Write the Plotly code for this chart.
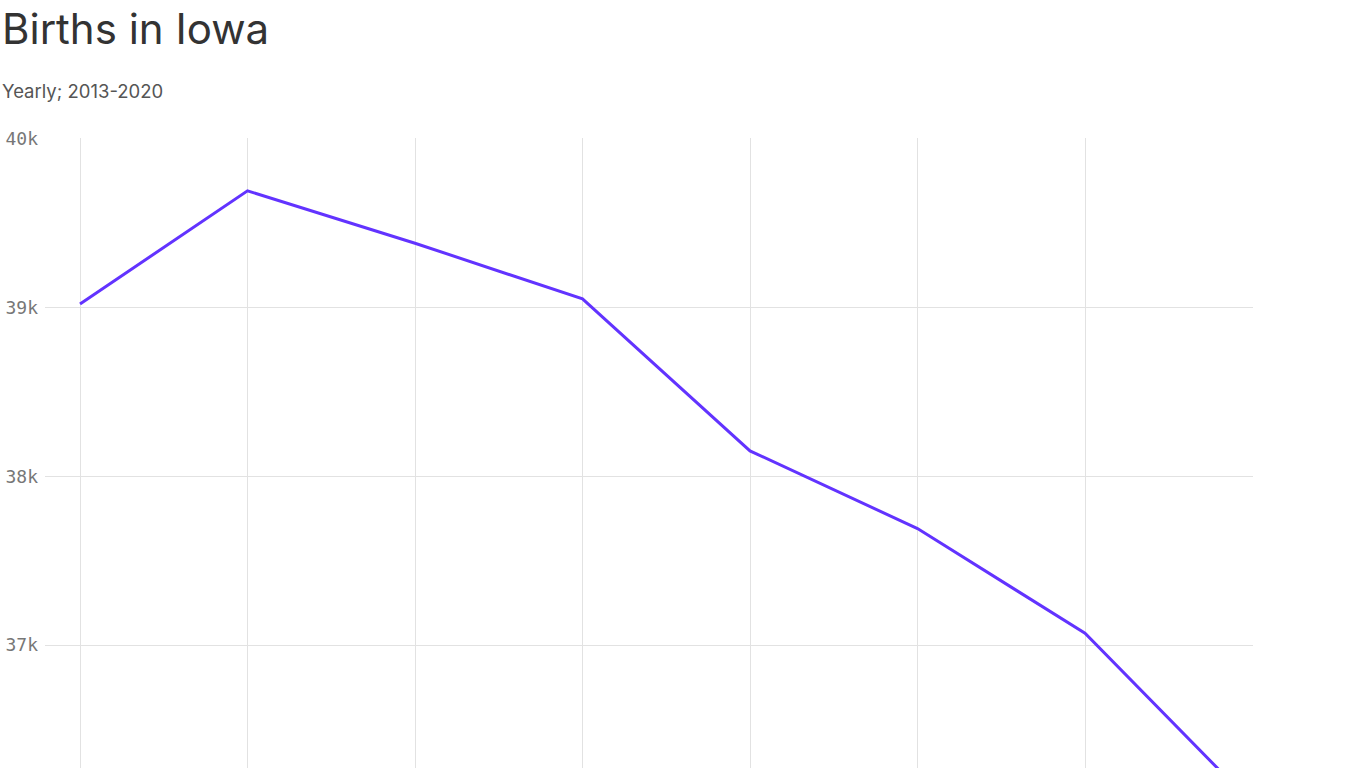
import plotly.graph_objects as go

# Births in Iowa, yearly
years = [2013, 2014, 2015, 2016, 2017, 2018, 2019, 2020]
births = [39020, 39690, 39380, 39050, 38150, 37690, 37070, 36060]

y_ticks = [37000, 38000, 39000, 40000]
y_tick_labels = ["37k", "38k", "39k", "40k"]

fig = go.Figure()

fig.add_trace(go.Scatter(
    x=years,
    y=births,
    mode="lines",
    line=dict(color="#6233ff", width=3),
    hoverinfo="x+y",
))

fig.update_layout(
    width=1366,
    height=768,
    margin=dict(l=45, r=113, t=138, b=0),
    plot_bgcolor="white",
    paper_bgcolor="white",
    showlegend=False,
    font=dict(family="Inter, Roboto, sans-serif", color="#333"),
    annotations=[
        dict(text="Births in Iowa", xref="paper", yref="paper",
             x=-45 / 1208, y=1 + 82 / 630, xanchor="left", yanchor="bottom",
             showarrow=False, font=dict(size=42, color="#333")),
        dict(text="Yearly; 2013-2020", xref="paper", yref="paper",
             x=-45 / 1208, y=1 + 34 / 630, xanchor="left", yanchor="bottom",
             showarrow=False, font=dict(size=18.5, color="#555")),
    ],
)

fig.update_xaxes(
    range=[2012.791, 2020.003],
    tick0=2013,
    dtick=1,
    showgrid=True,
    gridcolor="#e2e2e2",
    gridwidth=1,
    zeroline=False,
    showline=False,
    showticklabels=False,
)

fig.update_yaxes(
    range=[36272, 40003],
    tickvals=y_ticks,
    ticktext=y_tick_labels,
    showgrid=True,
    gridcolor="#e2e2e2",
    gridwidth=1,
    zeroline=False,
    showline=False,
    ticks="",
    ticklabelstandoff=6,
    tickfont=dict(family="DejaVu Sans Mono, monospace", size=18, color="#777"),
)

# drop the default 8px body margin so the chart sits flush in the window
fig.write_html(
    "out.html",
    config={"displayModeBar": False},
    post_script="document.body.style.margin='0';document.body.style.overflow='hidden';",
)
